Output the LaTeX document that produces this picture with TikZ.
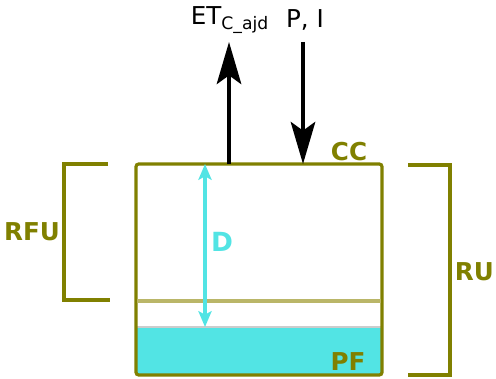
\documentclass[tikz,border=0pt]{standalone}
\usepackage{fontspec}
\setmainfont{DejaVu Sans}
\usetikzlibrary{arrows.meta}
\definecolor{olivec}{RGB}{128,128,0}
\definecolor{paleolive}{RGB}{186,182,104}
\definecolor{waterc}{RGB}{82,228,228}

\begin{document}
\begin{tikzpicture}[x=0.02cm,y=-0.02cm,>={Stealth[length=24pt,width=14pt,inset=5pt]}]
\tikzset{
  lbl/.style={font=\fontsize{14}{16}\selectfont},
  olbl/.style={font=\fontsize{14}{16}\selectfont\bfseries,text=olivec},
  wall/.style={draw=olivec,line width=1.8pt},
  flux/.style={->,line width=1.8pt,black},
}
\useasboundingbox (0,0) rectangle (496,378);
% water at the bottom
\fill[waterc] (137,327) rectangle (381,374);
\draw[gray!40,line width=0.8pt] (137,327) -- (381,327);
% soil column
\coordinate (tl) at (136,164);
\coordinate (br) at (382,375);
\draw[wall,rounded corners=1.5pt] (tl) rectangle (br);
\draw[paleolive,line width=1.8pt] (137,301) -- (381,301);
% labels
\node[lbl] (et) at (230,20) {ET\textsubscript{C\_ajd}};
\node[lbl] (pi) at (305,20) {P, I};
\node[olbl] (cc) at (349,152) {CC};
\node[olbl] (pf) at (348,362) {PF};
\node[olbl] (rfu) at (32,232) {RFU};
\node[olbl,anchor=east,inner xsep=1pt] (ru) at (496,272) {RU};
\node[font=\fontsize{15}{16}\selectfont\bfseries,text=waterc] (d) at (222,242) {D};
% fluxes
\coordinate (etb) at (229,164);
\coordinate (ett) at (229,42);
\coordinate (pib) at (303,164);
\coordinate (pit) at (303,42);
\draw[flux] (etb) -- (ett);
\draw[flux] (pit) -- (pib);
% depth
\coordinate (dt) at (205,164);
\coordinate (db) at (205,327);
\draw[<->,waterc,line width=1.8pt,>={Stealth[length=9pt,width=7.5pt,inset=2pt]}] (dt) -- (db);
% brackets
\draw[wall] (108,164) -- (64,164) -- (64,300) -- (110,300);
\draw[wall] (408,165) -- (450,165) -- (450,375) -- (408,375);
\end{tikzpicture}
\end{document}
